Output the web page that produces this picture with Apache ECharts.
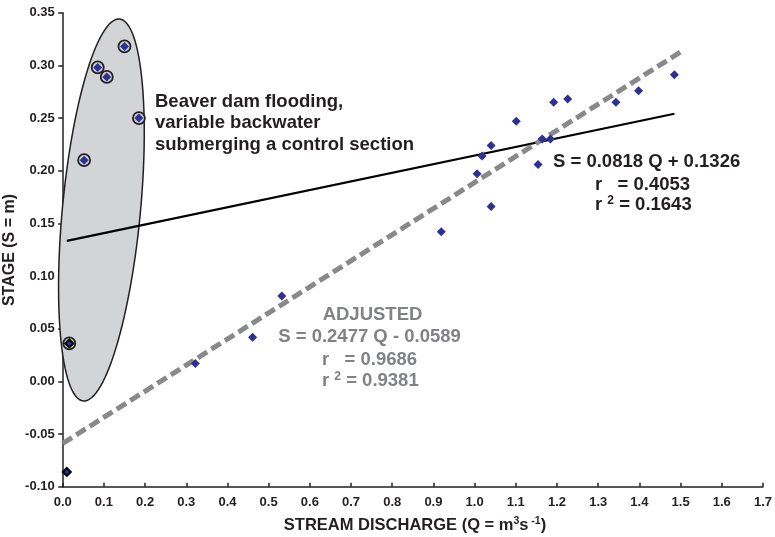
<!DOCTYPE html>
<html>
<head>
<meta charset="utf-8">
<script src="https://cdn.jsdelivr.net/npm/echarts@6/dist/echarts.min.js"></script>
<style>
  html, body { margin: 0; padding: 0; background: #fff; }
  #main { width: 775px; height: 537px; }
</style>
</head>
<body>
<div id="main"></div>
<script>
// data (Q = m3/s, S = m)
const floodPoints = [[0.150, 0.318], [0.085, 0.298], [0.107, 0.289], [0.185, 0.250], [0.052, 0.210]];
const lowFloodPoint = [[0.016, 0.036]];
const outlierPoint = [[0.010, -0.086]];
const gaugedPoints = [
  [0.322, 0.017], [0.461, 0.042], [0.532, 0.081], [0.919, 0.142], [1.006, 0.197],
  [1.018, 0.214], [1.040, 0.224], [1.040, 0.166], [1.101, 0.247], [1.154, 0.206],
  [1.164, 0.230], [1.184, 0.230], [1.192, 0.265], [1.226, 0.268], [1.343, 0.265],
  [1.398, 0.276], [1.485, 0.291]
];
// fitted lines (end points)
const allFit = [[0.010, 0.1334], [1.485, 0.2541]];
const adjustedFit = [[0.0, -0.0589], [1.5, 0.3127]];
// ellipse round the flooding points: centre, end of long axis, half short axis (Q units)
const ellipseCenter = [0.094, 0.1627];
const ellipseTip = [0.138, 0.344];
const ellipseMinorQ = 0.0947;

const dark = '#231f20';
const grey = '#818285';
const blue = '#2e3192';
const font = '"Liberation Sans", Arial, sans-serif';

function supText(base, sup, rest, color) {
  return {
    text: '{a|' + base + '}{s|' + sup + '}{a|' + rest + '}',
    verticalAlign: 'middle',
    rich: {
      a: { fontFamily: font, fontWeight: 'bold', fontSize: 18.5, lineHeight: 21, fill: color },
      s: { fontFamily: font, fontWeight: 'bold', fontSize: 12, lineHeight: 14, verticalAlign: 'top', fill: color }
    }
  };
}

let myChart = echarts.init(document.getElementById('main'));

let option = {
  animation: false,
  textStyle: { fontFamily: font },
  grid: { left: 62.7, right: 10, top: 12.7, bottom: 50.3 },
  xAxis: {
    type: 'value', min: 0, max: 1.7, interval: 0.1,
    axisLine: { onZero: false, lineStyle: { color: dark, width: 1.5 } },
    axisTick: { inside: true, length: 4, lineStyle: { color: dark, width: 1.5 } },
    axisLabel: { margin: 9, color: dark, fontWeight: 'bold', fontSize: 13, fontFamily: font,
      formatter: v => v.toFixed(1) },
    splitLine: { show: false }
  },
  yAxis: {
    type: 'value', min: -0.1, max: 0.35, interval: 0.05,
    axisLine: { show: true, onZero: false, lineStyle: { color: dark, width: 1.5 } },
    axisTick: { show: true, length: 4.5, lineStyle: { color: dark, width: 1.5 } },
    axisLabel: { margin: 8, color: dark, fontWeight: 'bold', fontSize: 13, fontFamily: font,
      formatter: v => v.toFixed(2) },
    splitLine: { show: false }
  },
  graphic: [
    { type: 'text', x: 10, y: 250, rotation: Math.PI / 2, z: 10,
      style: { text: 'STAGE (S = m)', font: 'bold 16px ' + font, fill: dark, align: 'center', verticalAlign: 'middle' } },
    { type: 'text', x: 415, y: 525, z: 10,
      style: {
        text: '{a|STREAM DISCHARGE (Q = m}{s|3}{a|s}{s| -1}{a|)}',
        align: 'center', verticalAlign: 'middle',
        rich: {
          a: { fontFamily: font, fontWeight: 'bold', fontSize: 16.5, lineHeight: 19, fill: dark },
          s: { fontFamily: font, fontWeight: 'bold', fontSize: 10.5, lineHeight: 12, verticalAlign: 'top', fill: dark }
        }
      } },
    { type: 'text', x: 155, y: 91, z: 10,
      style: { text: 'Beaver dam flooding,\nvariable backwater\nsubmerging a control section',
        font: 'bold 18.5px ' + font, fill: dark, lineHeight: 21.5 } },
    { type: 'text', x: 553, y: 162, z: 10,
      style: { text: 'S = 0.0818 Q + 0.1326', font: 'bold 18.5px ' + font, fill: dark, verticalAlign: 'middle' } },
    { type: 'text', x: 595, y: 185, z: 10,
      style: { text: 'r   = 0.4053', font: 'bold 18.5px ' + font, fill: dark, verticalAlign: 'middle' } },
    { type: 'text', x: 595, y: 205, z: 10, style: supText('r ', '2', ' = 0.1643', dark) },
    { type: 'text', x: 372.5, y: 315, z: 10,
      style: { text: 'ADJUSTED', font: 'bold 18.5px ' + font, fill: grey, align: 'center', verticalAlign: 'middle' } },
    { type: 'text', x: 369.5, y: 337, z: 10,
      style: { text: 'S = 0.2477 Q - 0.0589', font: 'bold 18.5px ' + font, fill: grey, align: 'center', verticalAlign: 'middle' } },
    { type: 'text', x: 322, y: 360, z: 10,
      style: { text: 'r   = 0.9686', font: 'bold 18.5px ' + font, fill: grey, verticalAlign: 'middle' } },
    { type: 'text', x: 322, y: 381, z: 10, style: supText('r ', '2', ' = 0.9381', grey) }
  ],
  series: [
    // ellipse
    {
      type: 'custom', z: 1, silent: true,
      data: [ellipseCenter],
      renderItem: function (params, api) {
        const c = api.coord(ellipseCenter);
        const t = api.coord(ellipseTip);
        const dx = t[0] - c[0], dy = t[1] - c[1];
        const a = Math.sqrt(dx * dx + dy * dy);
        const ang = Math.atan2(dy, dx);
        const b = api.size([ellipseMinorQ, 0])[0];
        const pts = [];
        for (let k = 0; k < 120; k++) {
          const th = k / 120 * Math.PI * 2;
          pts.push([
            c[0] + a * Math.cos(th) * Math.cos(ang) - b * Math.sin(th) * Math.sin(ang),
            c[1] + a * Math.cos(th) * Math.sin(ang) + b * Math.sin(th) * Math.cos(ang)
          ]);
        }
        return { type: 'polygon', shape: { points: pts },
          style: { fill: '#d3d4d6', stroke: dark, lineWidth: 1.5 } };
      }
    },
    // all data fit
    {
      type: 'line', z: 3, data: allFit, symbol: 'none',
      lineStyle: { color: '#000', width: 2.2 }
    },
    // adjusted fit
    {
      type: 'line', z: 3, data: adjustedFit, symbol: 'none',
      lineStyle: { color: '#88898b', width: 5, type: [11, 5] }
    },
    // rings round the flooding points
    {
      type: 'scatter', z: 4, data: floodPoints.concat(lowFloodPoint), symbol: 'circle', symbolSize: 12,
      itemStyle: { color: '#cfd0d2', borderColor: dark, borderWidth: 1.8, opacity: 1 }
    },
    {
      type: 'scatter', z: 5, data: floodPoints, symbol: 'diamond', symbolSize: 9,
      itemStyle: { color: blue, opacity: 1 }
    },
    {
      type: 'scatter', z: 5, data: lowFloodPoint.concat(outlierPoint), symbol: 'diamond', symbolSize: 8,
      itemStyle: { color: blue, borderColor: '#000', borderWidth: 2, opacity: 1 }
    },
    {
      type: 'scatter', z: 5, data: gaugedPoints, symbol: 'diamond', symbolSize: 9,
      itemStyle: { color: blue, opacity: 1 }
    }
  ]
};

option && myChart.setOption(option);
</script>
</body>
</html>
